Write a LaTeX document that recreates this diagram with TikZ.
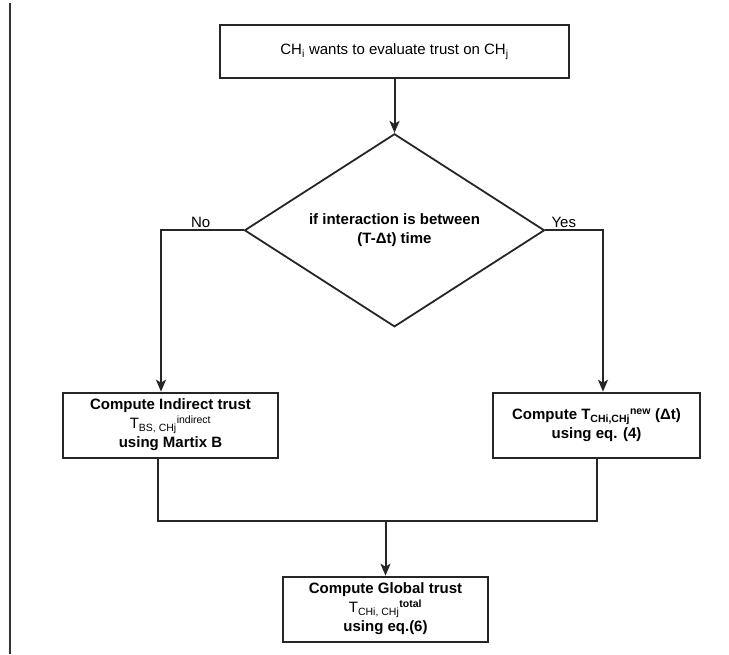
\documentclass[tikz,border=0pt]{standalone}
\usepackage{fontspec}
\setmainfont{Liberation Sans}
\usetikzlibrary{shapes.geometric, arrows.meta, positioning}
\newcommand{\flowfont}{\fontsize{15pt}{19pt}\selectfont}
\tikzset{
    start/.style={draw, rectangle, inner sep=2pt, align=center, draw=black!85, line width=1.8pt, minimum width=349pt, minimum height=53pt, font=\flowfont},
    decision/.style={draw, diamond, aspect=1.55, inner sep=0pt, align=center, draw=black!85, line width=1.8pt, minimum width=300pt, minimum height=193pt, font=\flowfont\bfseries},
    process/.style={draw, rectangle, inner sep=2pt, align=center, draw=black!85, line width=1.8pt, minimum height=65pt, font=\flowfont\bfseries},
    label/.style={font=\flowfont, inner sep=2pt},
    arrow/.style={-{Stealth[length=12pt, width=10pt, inset=3pt]}, line width=2pt, draw=black!85},
    link/.style={line width=2pt, draw=black!85}
}

\begin{document}
\begin{tikzpicture}[x=1pt, y=-1pt]
        \useasboundingbox (0,0) rectangle (729,654);
        \draw [line width=1.5pt, black!80] (10,3) -- (10,654);

        % Main flow
        \node (wants) [start] at (394.5,51.5) {CH\textsubscript{i} wants to evaluate trust on CH\textsubscript{j}};
        \node (interaction) [decision, below=54pt of wants] {if interaction is between\\(T-Δt) time};

        % The two branches
        \node (indirect) [process, minimum width=215pt, below=64pt of interaction.south, xshift=-224pt] {Compute Indirect trust\\{\mdseries T\textsubscript{BS, CHj}\textsuperscript{indirect}}\\using Martix B};
        \node (direct) [process, minimum width=207pt, below=64pt of interaction.south, xshift=202pt] {Compute T\textsubscript{CHi,CHj}\textsuperscript{new} (Δt)\\using eq. (4)};

        % Result
        \node (global) [process, minimum width=205pt, below=248pt of interaction.south, xshift=-9pt] {Compute Global trust\\{\mdseries T\textsubscript{CHi, CHj}}\textsuperscript{total}\\using eq.(6)};
        \coordinate (join) at ([yshift=55pt]global.north);

        % Connections
        \draw [arrow] (wants) -- (interaction);
        \draw [arrow] (interaction.west) -| node [label, pos=0.26, above] {No} ([xshift=-9.5pt]indirect.north);
        \draw [arrow] (interaction.east) -| node [label, pos=0.16, above] {Yes} ([xshift=6.5pt]direct.north);
        \draw [link] ([xshift=-13pt]indirect.south) |- (join) -| (direct.south);
        \draw [arrow] (join) -- (global);

    \end{tikzpicture}
\end{document}
